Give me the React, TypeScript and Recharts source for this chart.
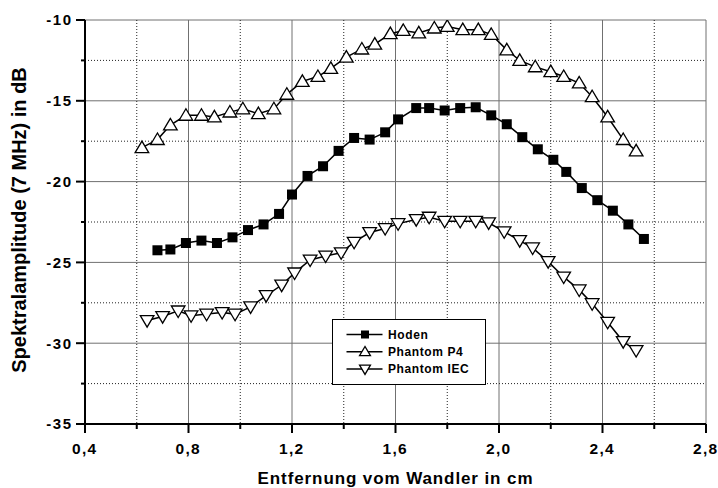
// Spektralamplitude vs. Entfernung – drei Messreihen
import { LineChart, Line, XAxis, YAxis, CartesianGrid } from 'recharts';

const FONT = '"Liberation Sans", Arial, Helvetica, sans-serif';

// Achsen
const xTicks = [0.4, 0.6, 0.8, 1.0, 1.2, 1.4, 1.6, 1.8, 2.0, 2.2, 2.4, 2.6, 2.8];
const xLabelTicks = [0.4, 0.8, 1.2, 1.6, 2.0, 2.4, 2.8];
const xMinorTicks = [0.6, 1.0, 1.4, 1.8, 2.2, 2.6];
const yTicks = [-35, -32.5, -30, -27.5, -25, -22.5, -20, -17.5, -15, -12.5, -10];
const yLabelTicks = [-35, -30, -25, -20, -15, -10];
const yMinorTicks = [-32.5, -27.5, -22.5, -17.5, -12.5];

// Hoden (gefüllte Quadrate)
const hodenX = [0.68, 0.73, 0.79, 0.85, 0.91, 0.97, 1.03, 1.09, 1.15, 1.2, 1.26, 1.32, 1.38, 1.44, 1.5, 1.56, 1.61, 1.68, 1.73, 1.79, 1.85, 1.91, 1.97, 2.03, 2.09, 2.15, 2.21, 2.26, 2.32, 2.38, 2.44, 2.5, 2.56];
const hodenY = [-24.25, -24.2, -23.8, -23.65, -23.8, -23.45, -23.0, -22.65, -22.0, -20.8, -19.65, -19.05, -18.1, -17.3, -17.4, -16.95, -16.15, -15.45, -15.45, -15.6, -15.45, -15.4, -15.9, -16.45, -17.25, -18.0, -18.65, -19.4, -20.4, -21.15, -21.8, -22.65, -23.55];

// Phantom P4 (Dreieck oben)
const p4X = [0.62, 0.68, 0.73, 0.79, 0.85, 0.9, 0.96, 1.01, 1.07, 1.13, 1.18, 1.24, 1.3, 1.35, 1.41, 1.47, 1.52, 1.58, 1.63, 1.69, 1.75, 1.8, 1.86, 1.92, 1.97, 2.03, 2.08, 2.14, 2.2, 2.25, 2.31, 2.36, 2.42, 2.48, 2.53];
const p4Y = [-17.9, -17.4, -16.5, -15.9, -15.9, -16.0, -15.7, -15.5, -15.8, -15.5, -14.6, -13.8, -13.5, -13.0, -12.3, -11.8, -11.5, -10.85, -10.65, -10.8, -10.5, -10.4, -10.6, -10.6, -10.9, -11.85, -12.5, -12.9, -13.2, -13.5, -13.9, -14.75, -16.0, -17.4, -18.1];

// Phantom IEC (Dreieck unten)
const iecX = [0.64, 0.7, 0.76, 0.81, 0.87, 0.93, 0.98, 1.04, 1.1, 1.16, 1.21, 1.27, 1.33, 1.39, 1.44, 1.5, 1.56, 1.61, 1.68, 1.73, 1.79, 1.85, 1.91, 1.96, 2.02, 2.08, 2.13, 2.19, 2.25, 2.31, 2.36, 2.42, 2.48, 2.53];
const iecY = [-28.6, -28.35, -28.0, -28.3, -28.2, -28.1, -28.2, -27.75, -27.05, -26.4, -25.65, -24.85, -24.6, -24.4, -23.75, -23.15, -22.9, -22.6, -22.35, -22.2, -22.45, -22.45, -22.45, -22.55, -23.1, -23.65, -24.1, -24.95, -25.9, -26.7, -27.55, -28.7, -29.9, -30.45];

const legendNames = ['Hoden', 'Phantom P4', 'Phantom IEC'];

const toRows = (xs: number[], ys: number[]) => xs.map((x, i) => ({ x, y: ys[i] }));
const hodenData = toRows(hodenX, hodenY);
const p4Data = toRows(p4X, p4Y);
const iecData = toRows(iecX, iecY);

type Kind = 'square' | 'up' | 'down';

function Marker({ cx, cy, kind, s = 1 }: { cx: number; cy: number; kind: Kind; s?: number }) {
  if (kind === 'square') {
    const h = 5 * s;
    return <rect x={cx - h} y={cy - h} width={h * 2} height={h * 2} fill="#000" />;
  }
  const w = 6.8 * s;
  const t = 6.6 * s;
  const b = 4.9 * s;
  const pts =
    kind === 'up'
      ? `${cx},${cy - t} ${cx - w},${cy + b} ${cx + w},${cy + b}`
      : `${cx - w},${cy - b} ${cx + w},${cy - b} ${cx},${cy + t}`;
  return <polygon points={pts} fill="#fff" stroke="#000" strokeWidth={1.3} />;
}

const dotOf = (kind: Kind) => (props: any) => {
  const { cx, cy, index } = props;
  return (
    <g key={`${kind}-${index}`}>
      <Marker cx={cx} cy={cy} kind={kind} />
    </g>
  );
};

const fmt = (v: number) => v.toFixed(1).replace('.', ',');

function XTick(props: any) {
  const { x, y, payload } = props;
  const major = xLabelTicks.includes(payload.value);
  return (
    <g>
      <line x1={x} x2={x} y1={y} y2={y + (major ? 9 : 5)} stroke="#000" strokeWidth={2} />
      {major && (
        <text x={x - 0.3} y={y + 30} textAnchor="middle" fontFamily={FONT} fontWeight="bold" fontSize={15.5} letterSpacing={1.3} fill="#000">
          {fmt(payload.value)}
        </text>
      )}
    </g>
  );
}

function YTick(props: any) {
  const { x, y, payload } = props;
  const major = yLabelTicks.includes(payload.value);
  return (
    <g>
      <line x1={x - (major ? 9 : 4)} x2={x} y1={y} y2={y} stroke="#000" strokeWidth={2} />
      {major && (
        <text x={x - 12.5} y={y} dy="0.36em" textAnchor="end" fontFamily={FONT} fontWeight="bold" fontSize={15} letterSpacing={1.5} fill="#000">
          {payload.value}
        </text>
      )}
    </g>
  );
}

function XTitle({ viewBox }: any) {
  return (
    <text x={viewBox.x + viewBox.width / 2} y={484} textAnchor="middle" fontFamily={FONT} fontWeight="bold" fontSize={17} letterSpacing={0.9} fill="#000">
      Entfernung vom Wandler in cm
    </text>
  );
}

function YTitle() {
  const cx = 19;
  const cy = 220;
  return (
    <text x={cx} y={cy} dy="0.36em" transform={`rotate(-90 ${cx} ${cy})`} textAnchor="middle" fontFamily={FONT} fontWeight="bold" fontSize={20} fill="#000">
      Spektralamplitude (7 MHz) in dB
    </text>
  );
}

function LegendBox() {
  const kinds: Kind[] = ['square', 'up', 'down'];
  return (
    <div style={{ position: 'absolute', left: 332, top: 319, width: 154, height: 66, border: '1px solid #000', background: '#fff', boxSizing: 'border-box' }}>
      <svg width={154} height={66} style={{ position: 'absolute', left: -1, top: -1 }}>
        {legendNames.map((name, i) => {
          const cy = 15.5 + i * 17.3;
          return (
            <g key={name}>
              <line x1={14.5} x2={50.5} y1={cy} y2={cy} stroke="#000" strokeWidth={1.5} />
              <Marker cx={33} cy={cy} kind={kinds[i]} s={0.8} />
              <text x={56} y={cy} dy="0.36em" fontFamily={FONT} fontWeight="bold" fontSize={12} letterSpacing={0.6} fill="#000">
                {name}
              </text>
            </g>
          );
        })}
      </svg>
    </div>
  );
}

const frameLine = { stroke: '#000', strokeWidth: 2 };

export default function App() {
  return (
    <div style={{ position: 'absolute', left: 0, top: 0, width: 718, height: 488, background: '#fff' }}>
      <LineChart width={718} height={488} margin={{ top: 20, right: 12, bottom: 0, left: 0 }}>
        <CartesianGrid horizontalValues={yLabelTicks} verticalValues={xLabelTicks} stroke="#707070" strokeWidth={1} />
        <CartesianGrid horizontalValues={yMinorTicks} verticalValues={xMinorTicks} stroke="#222" strokeWidth={1} strokeDasharray="1 2" />
        <XAxis
          type="number"
          dataKey="x"
          domain={[0.4, 2.8]}
          ticks={xTicks}
          interval={0}
          allowDataOverflow
          height={64}
          axisLine={frameLine}
          tickLine={false}
          tickSize={0}
          tickMargin={0}
          tick={<XTick />}
          label={<XTitle />}
        />
        <XAxis xAxisId="top" orientation="top" type="number" domain={[0.4, 2.8]} height={0} axisLine={frameLine} tick={false} tickLine={false} />
        <YAxis
          type="number"
          dataKey="y"
          domain={[-35, -10]}
          ticks={yTicks}
          interval={0}
          allowDataOverflow
          width={85}
          axisLine={frameLine}
          tickLine={false}
          tickSize={0}
          tickMargin={0}
          tick={<YTick />}
          label={<YTitle />}
        />
        <YAxis yAxisId="right" orientation="right" type="number" domain={[-35, -10]} width={0} axisLine={frameLine} tick={false} tickLine={false} />
        <Line data={p4Data} dataKey="y" type="linear" stroke="#000" strokeWidth={1.5} dot={dotOf('up')} activeDot={false} isAnimationActive={false} />
        <Line data={hodenData} dataKey="y" type="linear" stroke="#000" strokeWidth={1.5} dot={dotOf('square')} activeDot={false} isAnimationActive={false} />
        <Line data={iecData} dataKey="y" type="linear" stroke="#000" strokeWidth={1.5} dot={dotOf('down')} activeDot={false} isAnimationActive={false} />
      </LineChart>
      <LegendBox />
    </div>
  );
}
